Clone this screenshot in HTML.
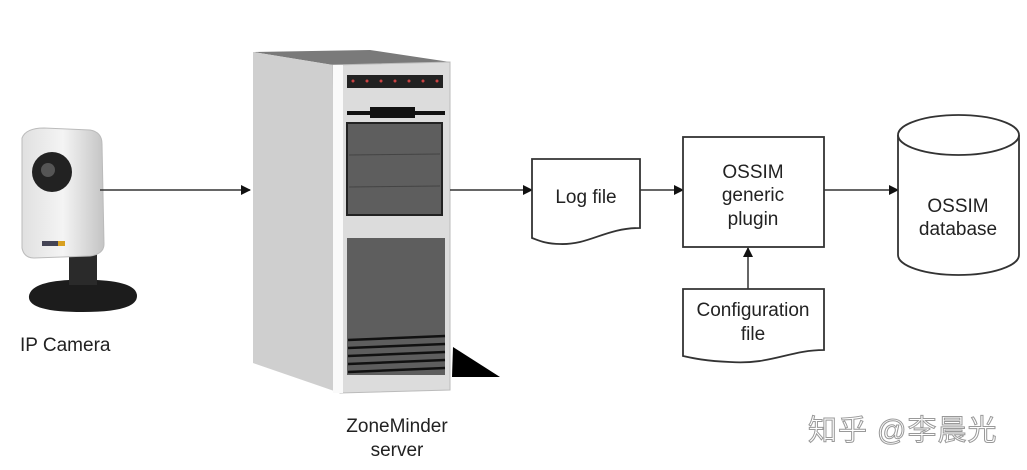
<!DOCTYPE html>
<html><head><meta charset="utf-8"><style>
html,body{margin:0;padding:0;background:#fff;}
svg{display:block}
text{font-family:"Liberation Sans",Arial,sans-serif;fill:#222}
</style></head><body>
<svg width="1027" height="470" viewBox="0 0 1027 470" xmlns="http://www.w3.org/2000/svg">
<defs>
<marker id="ah" markerWidth="10" markerHeight="10" refX="9" refY="5" orient="auto" markerUnits="userSpaceOnUse">
<path d="M0,0 L10,5 L0,10 z" fill="#111"/></marker>
<linearGradient id="cam" x1="0" x2="1"><stop offset="0" stop-color="#e0e0e0"/><stop offset="0.5" stop-color="#f4f4f4"/><stop offset="1" stop-color="#c4c4c4"/></linearGradient>
</defs>
<!-- camera -->
<path d="M83,312 q-56,0 -54,-16 q2,-14 40,-16 l0,-30 l28,0 l0,30 q40,2 40,16 q0,16 -54,16z" fill="#1c1c1c"/>
<rect x="69" y="245" width="28" height="40" fill="#2a2a2a"/>
<path d="M22,138 q4,-10 22,-10 l46,2 q12,2 12,14 l2,100 q0,10 -14,12 l-56,2 q-10,0 -12,-10 z" fill="url(#cam)" stroke="#bbb" stroke-width="1"/>
<circle cx="52" cy="172" r="20" fill="#222"/><circle cx="48" cy="170" r="7" fill="#555"/>
<rect x="42" y="241" width="16" height="5" fill="#445"/><rect x="58" y="241" width="7" height="5" fill="#d8a020"/>
<text x="20" y="351" font-size="19">IP Camera</text>
<!-- server -->
<polygon points="253,52 333,65 450,62 370,50" fill="#7a7a7a"/>
<polygon points="253,52 333,65 340,393 253,363" fill="#cfcfcf"/>
<polygon points="453,347 500,377 452,377" fill="#000"/>
<polygon points="333,65 450,62 450,390 340,393" fill="#dcdcdc" stroke="#bbb"/>
<rect x="333" y="65" width="10" height="328" fill="#fafafa"/>
<rect x="347" y="75" width="96" height="13" fill="#222"/>
<g fill="#c44"><circle cx="353" cy="81" r="1.5"/><circle cx="367" cy="81" r="1.5"/><circle cx="381" cy="81" r="1.5"/><circle cx="395" cy="81" r="1.5"/><circle cx="409" cy="81" r="1.5"/><circle cx="423" cy="81" r="1.5"/><circle cx="437" cy="81" r="1.5"/></g>
<rect x="347" y="111" width="98" height="4" fill="#111"/>
<rect x="370" y="107" width="45" height="11" fill="#111"/>
<rect x="347" y="123" width="95" height="92" fill="#5e5e5e" stroke="#222" stroke-width="2"/>
<line x1="349" y1="155" x2="440" y2="154" stroke="#444"/><line x1="349" y1="187" x2="440" y2="186" stroke="#444"/>
<rect x="347" y="238" width="98" height="137" fill="#5e5e5e"/>
<g stroke="#111" stroke-width="2.5"><line x1="348" y1="340" x2="445" y2="336"/><line x1="348" y1="348" x2="445" y2="344"/><line x1="348" y1="356" x2="445" y2="352"/><line x1="348" y1="364" x2="445" y2="360"/><line x1="348" y1="372" x2="445" y2="368"/></g>
<text x="397" y="432" font-size="19" text-anchor="middle">ZoneMinder</text>
<text x="397" y="456" font-size="19" text-anchor="middle">server</text>
<!-- connectors -->
<g stroke="#333" stroke-width="1.5" fill="none">
<line x1="100" y1="190" x2="250" y2="190" marker-end="url(#ah)"/>
<line x1="450" y1="190" x2="532" y2="190" marker-end="url(#ah)"/>
<line x1="640" y1="190" x2="683" y2="190" marker-end="url(#ah)"/>
<line x1="824" y1="190" x2="898" y2="190" marker-end="url(#ah)"/>
<line x1="748" y1="289" x2="748" y2="248" marker-end="url(#ah)"/>
</g>
<!-- shapes -->
<g stroke="#333" stroke-width="1.8" fill="#fff">
<path d="M532,159 L640,159 L640,228 C605,228 590,245 560,244 C545,244 538,240 532,238 Z"/>
<rect x="683" y="137" width="141" height="110"/>
<path d="M683,289 L824,289 L824,350 C790,350 770,365 730,362 C705,361 692,358 683,356 Z"/>
<path d="M898,135 L898,255 A60.5,20 0 0 0 1019,255 L1019,135"/>
<ellipse cx="958.5" cy="135" rx="60.5" ry="20"/>
</g>
<text x="586" y="203" font-size="19" text-anchor="middle">Log file</text>
<text x="753" y="178" font-size="19" text-anchor="middle">OSSIM</text>
<text x="753" y="201" font-size="19" text-anchor="middle">generic</text>
<text x="753" y="225" font-size="19" text-anchor="middle">plugin</text>
<text x="753" y="316" font-size="19" text-anchor="middle">Configuration</text>
<text x="753" y="340" font-size="19" text-anchor="middle">file</text>
<text x="958" y="212" font-size="19" text-anchor="middle">OSSIM</text>
<text x="958" y="235" font-size="19" text-anchor="middle">database</text>
<text x="808" y="440" font-size="29" letter-spacing="1" style="font-family:'Liberation Sans','Noto Sans CJK SC',sans-serif;fill:#fff;stroke:#999;stroke-width:1">知乎 @李晨光</text>
</svg>
</body></html>
